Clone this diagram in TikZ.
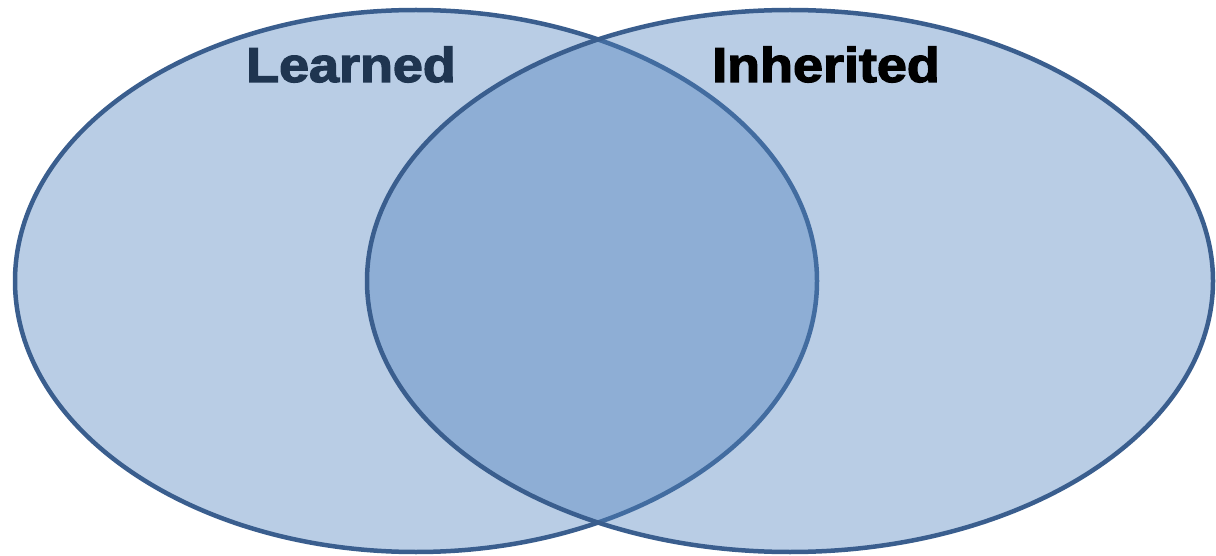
\documentclass[tikz,border=0pt]{standalone}
\usepackage{fontspec}
\usetikzlibrary{shapes.geometric}
\newfontfamily\vennfont[FakeBold=2.5]{Liberation Sans Bold}
\definecolor{vennfill}{HTML}{4F81BD}
\definecolor{vennline}{HTML}{3A5E8E}
\definecolor{learnedtext}{HTML}{1F3550}
\tikzset{
  venn/.style={ellipse, draw=vennline, line width=4.5pt, fill=vennfill,
    fill opacity=0.4, draw opacity=1, inner sep=0pt},
  vennlabel/.style={anchor=base, inner sep=0pt, xscale=1.1,
    font=\vennfont\fontsize{49}{58}\selectfont}
}
\begin{document}
\begin{tikzpicture}[x=1pt,y=-1pt]
\useasboundingbox (0,0) rectangle (1216,556);
\node[venn, minimum width=802pt, minimum height=542pt] (learned) at (416,281) {};
\node[venn, minimum width=846pt, minimum height=542pt] (inherited) at (790,281) {};
\node[vennlabel, text=learnedtext] (learnedlabel) at (351,82) {Learned};
\node[vennlabel, text=black] (inheritedlabel) at (826,82) {Inherited};
\end{tikzpicture}
\end{document}
